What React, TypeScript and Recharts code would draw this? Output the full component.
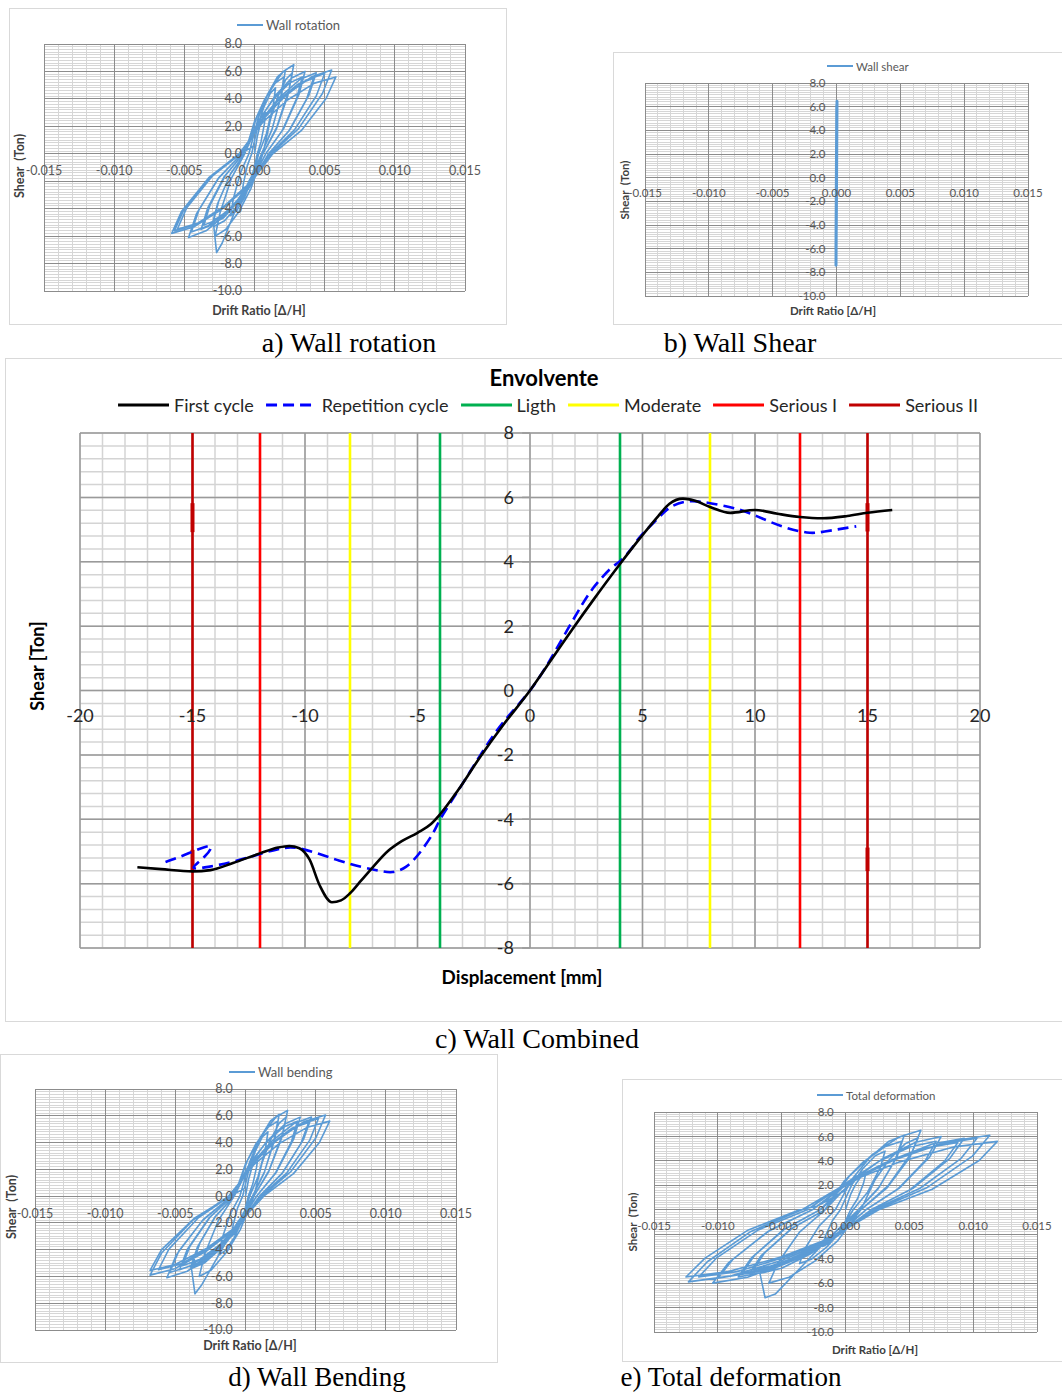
import React from "react";
import { LineChart, Line, XAxis, YAxis, CartesianGrid, ReferenceLine, ReferenceDot } from "recharts";

const FONT = "Lato, 'Open Sans', sans-serif";
const SERIF = "'Liberation Serif', 'DejaVu Serif', serif";
const BLUE = "#5B9BD5";

// drift ratio charts (a, b, d, e)
const DRIFT_TICKS = [-0.015, -0.01, -0.005, 0, 0.005, 0.01, 0.015];
const DRIFT_LABELS = ["-0.015", "-0.010", "-0.005", "0.000", "0.005", "0.010", "0.015"];
const SHEAR_TICKS = [8, 6, 4, 2, 0, -2, -4, -6, -8, -10];
const SHEAR_LABELS = ["8.0", "6.0", "4.0", "2.0", "0.0", "-2.0", "-4.0", "-6.0", "-8.0", "-10.0"];
const DRIFT_MINOR = Array.from({ length: 31 }, (_, i) => (i - 15) / 1000);
const SHEAR_MINOR = Array.from({ length: 91 }, (_, i) => (i - 50) / 5);

const WALL_ROTATION: [number, number][] = [
  [0, 0],
  [0.0002, 1.26], [0.0004, 2.1], [0.00062, 2.76], [0.0008, 3.0], [0.0007, 2.16], [0.00047, 0.9], [0.0002, 0],
  [-0.00008, -1.26], [-0.00035, -2.1], [-0.00066, -2.76], [-0.0009, -3.0], [-0.00079, -2.16], [-0.00052, -0.9], [-0.0002, 0],
  [0.00023, 2.02], [0.00065, 3.36], [0.00113, 4.42], [0.0015, 4.8], [0.00132, 3.46], [0.00084, 1.44], [0.0003, 0],
  [-0.0002, -1.89], [-0.0007, -3.15], [-0.00126, -4.14], [-0.0017, -4.5], [-0.0015, -3.24], [-0.00099, -1.35], [-0.0004, 0],
  [0.00025, 2.56], [0.0009, 4.27], [0.00163, 5.61], [0.0022, 6.1], [0.00194, 4.39], [0.00127, 1.83], [0.0005, 0],
  [-0.00038, -2.14], [-0.00125, -3.57], [-0.00223, -4.69], [-0.003, -5.1], [-0.00264, -3.67], [-0.00174, -1.53], [-0.0007, 0],
  [0, 2.35], [0.0007, 3.92], [0.00148, 5.15], [0.0021, 5.6], [0.00185, 4.03], [0.00122, 1.68], [0.0005, 0],
  [-0.00035, -2.02], [-0.0012, -3.36], [-0.00215, -4.42], [-0.0029, -4.8], [-0.00255, -3.46], [-0.0017, -1.44], [-0.0007, 0],
  [0.00018, 2.73], [0.00105, 4.55], [0.00203, 5.98], [0.0028, 6.5], [0.00246, 4.68], [0.00159, 1.95], [0.0006, 0],
  [-0.00028, -2.23], [-0.00115, -3.71], [-0.00213, -4.88], [-0.0029, -5.3], [-0.0027, -7.2], [-0.0023, -6.5], [-0.0014, -4.2], [-0.0004, -2.0], [0.0003, -0.7], [0.0006, 0],
  [0.00113, 2.48], [0.00165, 4.13], [0.00224, 5.43], [0.0027, 5.9], [0.00238, 4.25], [0.00155, 1.77], [0.0006, 0],
  [-0.00025, -2.52], [-0.0011, -4.2], [-0.00205, -5.52], [-0.0028, -6.0], [-0.00246, -4.32], [-0.00165, -1.8], [-0.0007, 0],
  [0.00038, 2.52], [0.00145, 4.2], [0.00265, 5.52], [0.0036, 6.0], [0.00317, 4.32], [0.00206, 1.8], [0.0008, 0],
  [-0.00035, -2.31], [-0.0015, -3.85], [-0.00279, -5.06], [-0.0038, -5.5], [-0.00334, -3.96], [-0.00215, -1.65], [-0.0008, 0],
  [0.00025, 2.35], [0.0013, 3.92], [0.00248, 5.15], [0.0034, 5.6], [0.003, 4.03], [0.00197, 1.68], [0.0008, 0],
  [-0.0003, -2.18], [-0.0014, -3.64], [-0.00263, -4.78], [-0.0036, -5.2], [-0.00317, -3.74], [-0.00206, -1.56], [-0.0008, 0],
  [0.0005, 2.48], [0.0018, 4.13], [0.00326, 5.43], [0.0044, 5.9], [0.00387, 4.25], [0.00253, 1.77], [0.001, 0],
  [-0.00043, -2.56], [-0.00185, -4.27], [-0.00345, -5.61], [-0.0047, -6.1], [-0.00414, -4.39], [-0.00261, -1.83], [-0.0009, 0],
  [0.00038, 2.31], [0.00165, 3.85], [0.00308, 5.06], [0.0042, 5.5], [0.0037, 3.96], [0.00244, 1.65], [0.001, 0],
  [-0.00038, -2.39], [-0.00175, -3.99], [-0.00329, -5.24], [-0.0045, -5.7], [-0.00396, -4.1], [-0.00252, -1.71], [-0.0009, 0],
  [0.00058, 2.46], [0.00205, 4.1], [0.0037, 5.38], [0.005, 5.85], [0.0044, 4.21], [0.00286, 1.76], [0.0011, 0],
  [-0.00055, -2.31], [-0.0022, -3.85], [-0.00405, -5.06], [-0.0055, -5.5], [-0.00484, -3.96], [-0.00303, -1.65], [-0.001, 0],
  [0.00063, 2.56], [0.00225, 4.27], [0.00407, 5.61], [0.0055, 6.1], [0.00484, 4.39], [0.00314, 1.83], [0.0012, 0],
  [-0.00058, -2.44], [-0.00235, -4.06], [-0.00434, -5.34], [-0.0059, -5.8], [-0.00519, -4.18], [-0.00326, -1.74], [-0.0011, 0],
  [0.00063, 2.35], [0.00235, 3.92], [0.00428, 5.15], [0.0058, 5.6], [0.0051, 4.03], [0.00333, 1.68], [0.0013, 0],
  [-0.00045, -2.35], [-0.0022, -3.92], [-0.00416, -5.15], [-0.0057, -5.6], [-0.00502, -4.03], [-0.00312, -1.68], [-0.001, 0],
  [0, 0.6],
];

const WALL_SHEAR: [number, number][] = [
  [0, 0], [0.00002, 3.0], [-0.00001, -2.9], [0.00003, 4.8], [-0.00002, -4.4],
  [0.00003, 6.1], [-0.00003, -5.2], [0.00004, 6.45], [-0.00004, -7.4], [0.00003, 6.0],
  [-0.00003, -5.6], [0.00003, 5.9], [-0.00004, -6.1], [0.00002, 6.1], [-0.00003, -5.9],
  [0.00002, 5.5], [0, 0],
];

const WALL_BENDING: [number, number][] = [
  [0, 0],
  [0.00022, 1.26], [0.00045, 2.1], [0.0007, 2.76], [0.0009, 3.0], [0.00079, 2.16], [0.00052, 0.9], [0.0002, 0],
  [-0.0001, -1.26], [-0.0004, -2.1], [-0.00074, -2.76], [-0.001, -3.0], [-0.00088, -2.16], [-0.00057, -0.9], [-0.0002, 0],
  [0.00025, 2.02], [0.0007, 3.36], [0.0012, 4.42], [0.0016, 4.8], [0.00141, 3.46], [0.00089, 1.44], [0.0003, 0],
  [-0.00025, -1.85], [-0.0008, -3.08], [-0.00142, -4.05], [-0.0019, -4.4], [-0.00167, -3.17], [-0.00108, -1.32], [-0.0004, 0],
  [0.0003, 2.56], [0.001, 4.27], [0.00178, 5.61], [0.0024, 6.1], [0.00211, 4.39], [0.00136, 1.83], [0.0005, 0],
  [-0.0006, -2.23], [-0.0017, -3.71], [-0.00293, -4.88], [-0.0039, -5.3], [-0.00343, -3.82], [-0.0022, -1.59], [-0.0008, 0],
  [-0.00002, 2.35], [0.00075, 3.92], [0.00162, 5.15], [0.0023, 5.6], [0.00202, 4.03], [0.00131, 1.68], [0.0005, 0],
  [-0.00055, -2.06], [-0.0016, -3.43], [-0.00278, -4.51], [-0.0037, -4.9], [-0.00326, -3.53], [-0.00211, -1.47], [-0.0008, 0],
  [0.00015, 2.69], [0.0011, 4.48], [0.00216, 5.89], [0.003, 6.4], [0.00264, 4.61], [0.00168, 1.92], [0.0006, 0],
  [-0.0005, -2.27], [-0.0016, -3.78], [-0.0029, -4.97], [-0.00385, -5.4], [-0.0036, -7.3], [-0.0031, -6.6], [-0.0018, -4.2], [-0.0006, -2.0], [0.0003, -0.7], [0.0006, 0],
  [0.00118, 2.48], [0.00175, 4.13], [0.00239, 5.43], [0.0029, 5.9], [0.00255, 4.25], [0.00163, 1.77], [0.0006, 0],
  [-0.00038, -2.52], [-0.00135, -4.2], [-0.00244, -5.52], [-0.0033, -6.0], [-0.0029, -4.32], [-0.00193, -1.8], [-0.0008, 0],
  [0.00038, 2.48], [0.00155, 4.13], [0.00287, 5.43], [0.0039, 5.9], [0.00343, 4.25], [0.00219, 1.77], [0.0008, 0],
  [-0.00058, -2.31], [-0.00195, -3.85], [-0.00349, -5.06], [-0.0047, -5.5], [-0.00414, -3.96], [-0.00261, -1.65], [-0.0009, 0],
  [0.00025, 2.35], [0.0014, 3.92], [0.00269, 5.15], [0.0037, 5.6], [0.00326, 4.03], [0.00211, 1.68], [0.0008, 0],
  [-0.00053, -2.18], [-0.00185, -3.64], [-0.00333, -4.78], [-0.0045, -5.2], [-0.00396, -3.74], [-0.00252, -1.56], [-0.0009, 0],
  [0.0005, 2.48], [0.0019, 4.13], [0.00347, 5.43], [0.0047, 5.9], [0.00414, 4.25], [0.00267, 1.77], [0.001, 0],
  [-0.00065, -2.56], [-0.0023, -4.27], [-0.00415, -5.61], [-0.0056, -6.1], [-0.00493, -4.39], [-0.00307, -1.83], [-0.001, 0],
  [0.00038, 2.31], [0.00175, 3.85], [0.00329, 5.06], [0.0045, 5.5], [0.00396, 3.96], [0.00258, 1.65], [0.001, 0],
  [-0.0006, -2.39], [-0.0022, -3.99], [-0.00399, -5.24], [-0.0054, -5.7], [-0.00475, -4.1], [-0.00298, -1.71], [-0.001, 0],
  [0.00055, 2.44], [0.0021, 4.06], [0.00384, 5.34], [0.0052, 5.8], [0.00458, 4.18], [0.00295, 1.74], [0.0011, 0],
  [-0.00073, -2.31], [-0.00255, -3.85], [-0.00459, -5.06], [-0.0062, -5.5], [-0.00546, -3.96], [-0.00339, -1.65], [-0.0011, 0],
  [0.0006, 2.54], [0.0023, 4.24], [0.0042, 5.57], [0.0057, 6.05], [0.00502, 4.36], [0.00322, 1.82], [0.0012, 0],
  [-0.0008, -2.48], [-0.0028, -4.13], [-0.00504, -5.43], [-0.0068, -5.9], [-0.00598, -4.25], [-0.00372, -1.77], [-0.0012, 0],
  [0.0006, 2.35], [0.0024, 3.92], [0.00442, 5.15], [0.006, 5.6], [0.00528, 4.03], [0.00342, 1.68], [0.0013, 0],
  [-0.00073, -2.33], [-0.00275, -3.89], [-0.00502, -5.11], [-0.0068, -5.55], [-0.00598, -4.0], [-0.00367, -1.67], [-0.0011, 0],
  [0, 0.6],
];

const TOTAL_DEFORMATION: [number, number][] = [
  [0, 0],
  [0.0004, 1.26], [0.0008, 2.1], [0.00125, 2.76], [0.0016, 3.0], [0.00141, 2.16], [0.00094, 0.9], [0.0004, 0],
  [-0.00015, -1.26], [-0.0007, -2.1], [-0.00132, -2.76], [-0.0018, -3.0], [-0.00158, -2.16], [-0.00103, -0.9], [-0.0004, 0],
  [0.00048, 2.02], [0.00135, 3.36], [0.00233, 4.42], [0.0031, 4.8], [0.00273, 3.46], [0.00173, 1.44], [0.0006, 0],
  [-0.00045, -1.85], [-0.0015, -3.08], [-0.00268, -4.05], [-0.0036, -4.4], [-0.00317, -3.17], [-0.00206, -1.32], [-0.0008, 0],
  [0.00055, 2.56], [0.0019, 4.27], [0.00341, 5.61], [0.0046, 6.1], [0.00405, 4.39], [0.00262, 1.83], [0.001, 0],
  [-0.00113, -2.18], [-0.00325, -3.64], [-0.00563, -4.78], [-0.0075, -5.2], [-0.0066, -3.74], [-0.00426, -1.56], [-0.0016, 0],
  [-0.0001, 2.35], [0.0014, 3.92], [0.00308, 5.15], [0.0044, 5.6], [0.00387, 4.03], [0.00253, 1.68], [0.001, 0],
  [-0.00105, -2.06], [-0.0031, -3.43], [-0.0054, -4.51], [-0.0072, -4.9], [-0.00634, -3.53], [-0.00412, -1.47], [-0.0016, 0],
  [0.00028, 2.73], [0.00215, 4.55], [0.00425, 5.98], [0.0059, 6.5], [0.00519, 4.68], [0.00332, 1.95], [0.0012, 0],
  [-0.00078, -2.18], [-0.0028, -3.64], [-0.005, -4.78], [-0.0067, -5.2], [-0.0063, -7.2], [-0.0055, -6.9], [-0.0033, -4.5], [-0.0012, -2.2], [0.0004, -0.7], [0.0012, 0],
  [0.00233, 2.48], [0.00345, 4.13], [0.00471, 5.43], [0.0057, 5.9], [0.00502, 4.25], [0.00323, 1.77], [0.0012, 0],
  [-0.0006, -2.52], [-0.0024, -4.2], [-0.00442, -5.52], [-0.006, -6.0], [-0.00528, -4.32], [-0.00358, -1.8], [-0.0016, 0],
  [0.00068, 2.52], [0.00295, 4.2], [0.0055, 5.52], [0.0075, 6.0], [0.0066, 4.32], [0.00425, 1.8], [0.0016, 0],
  [-0.0009, -2.31], [-0.0034, -3.85], [-0.0062, -5.06], [-0.0084, -5.5], [-0.00739, -3.96], [-0.00488, -1.65], [-0.002, 0],
  [0.00028, 2.35], [0.00255, 3.92], [0.0051, 5.15], [0.0071, 5.6], [0.00625, 4.03], [0.00408, 1.68], [0.0016, 0],
  [-0.00083, -2.18], [-0.00325, -3.64], [-0.00597, -4.78], [-0.0081, -5.2], [-0.00713, -3.74], [-0.00475, -1.56], [-0.002, 0],
  [0.00083, 2.46], [0.00365, 4.1], [0.00681, 5.38], [0.0093, 5.85], [0.00818, 4.21], [0.00529, 1.76], [0.002, 0],
  [-0.0011, -2.52], [-0.0042, -4.2], [-0.00767, -5.52], [-0.0104, -6.0], [-0.00915, -4.32], [-0.00611, -1.8], [-0.0026, 0],
  [0.00025, 2.31], [0.0031, 3.85], [0.00629, 5.06], [0.0088, 5.5], [0.00774, 3.96], [0.00506, 1.65], [0.002, 0],
  [-0.001, -2.35], [-0.004, -3.92], [-0.00736, -5.15], [-0.01, -5.6], [-0.0088, -4.03], [-0.00593, -1.68], [-0.0026, 0],
  [0.00063, 2.46], [0.00385, 4.1], [0.00746, 5.38], [0.0103, 5.85], [0.00906, 4.21], [0.00584, 1.76], [0.0022, 0],
  [-0.00123, -2.31], [-0.00465, -3.85], [-0.00849, -5.06], [-0.0115, -5.5], [-0.01012, -3.96], [-0.00683, -1.65], [-0.003, 0],
  [0.00058, 2.56], [0.00415, 4.27], [0.00815, 5.61], [0.0113, 6.1], [0.00994, 4.39], [0.00641, 1.83], [0.0024, 0],
  [-0.00128, -2.48], [-0.00495, -4.13], [-0.00907, -5.43], [-0.0123, -5.9], [-0.01082, -4.25], [-0.00741, -1.77], [-0.0034, 0],
  [0.00043, 2.35], [0.00425, 3.92], [0.00853, 5.15], [0.0119, 5.6], [0.01047, 4.03], [0.00679, 1.68], [0.0026, 0],
  [-0.00118, -2.31], [-0.005, -3.85], [-0.00918, -5.06], [-0.0125, -5.5], [-0.011, -3.96], [-0.00761, -1.65], [-0.0036, 0],
  [-0.0022, 0.3], [0, 1.6],
];

// envelope chart (c): [displacement mm, shear Ton]
const FIRST_CYCLE: [number, number][] = [
  [-17.45, -5.49], [-16.4, -5.55], [-15.0, -5.62], [-14.2, -5.58], [-13.2, -5.36], [-12.0, -5.06],
  [-11.2, -4.88], [-10.7, -4.83], [-10.25, -4.9], [-9.8, -5.25], [-9.35, -6.05], [-8.8, -6.58],
  [-8.4, -6.52], [-8.0, -6.3], [-7.5, -5.9], [-7.0, -5.5], [-6.3, -4.98], [-5.7, -4.68],
  [-5.0, -4.42], [-4.4, -4.15], [-4.0, -3.85], [-3.2, -3.1], [-2.2, -2.05], [-1.2, -1.08],
  [0, 0], [1.1, 1.11], [1.9, 1.92], [2.8, 2.8], [4.0, 3.93], [4.9, 4.74], [5.7, 5.42],
  [6.2, 5.8], [6.8, 5.96], [7.3, 5.9], [8.0, 5.7], [8.9, 5.52], [10.0, 5.61], [11.0, 5.49],
  [12.0, 5.39], [13.0, 5.35], [14.1, 5.42], [15.0, 5.52], [16.1, 5.61],
];
const REPETITION_CYCLE: [number, number][] = [
  [-16.2, -5.33], [-15.5, -5.15], [-14.8, -4.95], [-14.2, -4.84], [-14.45, -5.15], [-14.95, -5.5],
  [-14.3, -5.48], [-13.2, -5.32], [-12.0, -5.08], [-11.0, -4.9], [-10.3, -4.9], [-9.5, -5.05],
  [-8.5, -5.28], [-7.5, -5.48], [-6.7, -5.6], [-6.1, -5.64], [-5.5, -5.47], [-4.9, -5.04],
  [-4.3, -4.42], [-3.95, -3.95], [-3.2, -3.12], [-2.2, -2.0], [-1.2, -1.0], [0, 0],
  [1.1, 1.2], [2.3, 2.65], [3.0, 3.35], [3.6, 3.8], [4.0, 4.02], [4.5, 4.4], [4.9, 4.78],
  [5.7, 5.36], [6.3, 5.72], [7.1, 5.88], [8.0, 5.82], [9.1, 5.66], [10.1, 5.41], [11.2, 5.1],
  [12.3, 4.91], [13.1, 4.94], [14.5, 5.1],
];
const LIGTH_X = [-4, 4];
const MODERATE_X = [-8, 8];
const SERIOUS_I_X = [-12, 12];
const SERIOUS_II_X = [-15, 15];
// short heavier pieces visible on the limit lines: [x, y from, y to]
const LIMIT_MARKS: [number, number, number][] = [
  [-15, 4.92, 5.82], [-15, -4.95, -5.6], [15, 4.94, 5.82], [15, -4.88, -5.61],
];
const ENV_LEGEND = ["First cycle", "Repetition cycle", "Ligth", "Moderate", "Serious I", "Serious II"];
const ENV_COLORS = ["#000000", "#0000FF", "#00B050", "#FFFF00", "#FF0000", "#C00000"];
const DISP_TICKS = [-20, -15, -10, -5, 0, 5, 10, 15, 20];
const ENV_SHEAR_TICKS = [8, 6, 4, 2, 0, -2, -4, -6, -8];
const DISP_MINOR = Array.from({ length: 41 }, (_, i) => i - 20);
const ENV_MINOR = Array.from({ length: 41 }, (_, i) => ((i - 20) * 2) / 5);

type Box = { x: number; y: number; w: number; h: number };

const marginOf = (f: Box, p: Box) => ({
  left: p.x - f.x,
  top: p.y - f.y,
  right: f.x + f.w - p.x - p.w,
  bottom: f.y + f.h - p.y - p.h,
});

function Txt({ x, y, children, size, bold, rotate, family = FONT, color = "#000" }: any) {
  return (
    <div
      style={{
        position: "absolute",
        left: x,
        top: y,
        transform: `translate(-50%, -50%)${rotate ? " rotate(-90deg)" : ""}`,
        whiteSpace: "pre",
        fontFamily: family,
        fontSize: size,
        fontWeight: bold ? 700 : 400,
        color,
        lineHeight: 1.15,
      }}
    >
      {children}
    </div>
  );
}

function MiniLegend({ x, y, name, size }: { x: number; y: number; name: string; size: number }) {
  return (
    <div style={{ position: "absolute", left: x, top: y - 9, height: 18, display: "flex", alignItems: "center", fontFamily: FONT, fontSize: size, color: "#595959", whiteSpace: "nowrap" }}>
      <span style={{ display: "inline-block", width: 26, height: 2, background: BLUE, marginRight: 3 }} />
      {name}
    </div>
  );
}

function DriftChart({ frame, plot, points, name, tick, legendSize, titleSize, xGap, yGap, lineWidth, legendX, legendY, xTitle, yTitle }: any) {
  const data = (points as [number, number][]).map(([x, y]) => ({ x, y }));
  return (
    <>
      <div style={{ position: "absolute", left: frame.x, top: frame.y, width: frame.w, height: frame.h, border: "1px solid #d9d9d9", boxSizing: "border-box" }} />
      <div className="crisp-grid" style={{ position: "absolute", left: frame.x, top: frame.y }}>
        <LineChart width={frame.w} height={frame.h} data={data} margin={marginOf(frame, plot)}>
          <XAxis type="number" dataKey="x" domain={[-0.015, 0.015]} ticks={DRIFT_TICKS} interval={0} hide allowDataOverflow />
          <YAxis type="number" domain={[-10, 8]} ticks={SHEAR_TICKS} interval={0} hide allowDataOverflow />
          <CartesianGrid verticalValues={DRIFT_MINOR} horizontalValues={SHEAR_MINOR} stroke="#d6d6d6" strokeWidth={1} />
          <CartesianGrid verticalValues={DRIFT_TICKS} horizontalValues={SHEAR_TICKS} stroke="#8c8c8c" strokeWidth={1} />
          <Line dataKey="y" type="linear" stroke={BLUE} strokeWidth={lineWidth} strokeLinejoin="round" dot={false} isAnimationActive={false} />
          {DRIFT_TICKS.map((v, i) => (
            <ReferenceDot key={"dx" + i} x={v} y={0} r={0} fill="none" stroke="none" ifOverflow="visible"
              label={{ value: DRIFT_LABELS[i], position: "bottom", offset: xGap, fill: "#595959", fontSize: tick, fontFamily: FONT }} />
          ))}
          {SHEAR_TICKS.map((v, i) => (
            <ReferenceDot key={"dy" + i} x={0} y={v} r={0} fill="none" stroke="none" ifOverflow="visible"
              label={{ value: SHEAR_LABELS[i], position: "left", offset: yGap, fill: "#595959", fontSize: tick, fontFamily: FONT }} />
          ))}
        </LineChart>
      </div>
      <MiniLegend x={legendX} y={legendY} name={name} size={legendSize} />
      <Txt x={xTitle[0]} y={xTitle[1]} size={titleSize} bold color="#404040">Drift Ratio [Δ/H]</Txt>
      <Txt x={yTitle[0]} y={yTitle[1]} size={titleSize} bold rotate color="#404040">{"Shear  (Ton)"}</Txt>
    </>
  );
}

function EnvelopeChart() {
  const frame = { x: 5, y: 358, w: 1062, h: 664 };
  const plot = { x: 80, y: 433, w: 900, h: 515 };
  const first = FIRST_CYCLE.map(([x, y]) => ({ x, y }));
  const rep = REPETITION_CYCLE.map(([x, y]) => ({ x, y }));
  const limitSets: [number[], string][] = [
    [LIGTH_X, ENV_COLORS[2]],
    [MODERATE_X, ENV_COLORS[3]],
    [SERIOUS_I_X, ENV_COLORS[4]],
    [SERIOUS_II_X, ENV_COLORS[5]],
  ];
  return (
    <>
      <div style={{ position: "absolute", left: frame.x, top: frame.y, width: frame.w, height: frame.h, border: "1px solid #d9d9d9", boxSizing: "border-box" }} />
      <div style={{ position: "absolute", left: frame.x, top: frame.y }}>
        <LineChart width={frame.w} height={frame.h} margin={marginOf(frame, plot)}>
          <XAxis type="number" dataKey="x" domain={[-20, 20]} ticks={DISP_TICKS} interval={0} hide allowDataOverflow />
          <YAxis type="number" domain={[-8, 8]} ticks={ENV_SHEAR_TICKS} interval={0} hide allowDataOverflow />
          <CartesianGrid verticalValues={DISP_MINOR} horizontalValues={ENV_MINOR} stroke="#d4d4d4" strokeWidth={1.5} />
          <CartesianGrid verticalValues={DISP_TICKS} horizontalValues={ENV_SHEAR_TICKS} stroke="#9a9a9a" strokeWidth={1.5} />
          {ENV_SHEAR_TICKS.map((v) => (
            <ReferenceLine key={"tk" + v} segment={[{ x: -0.35, y: v }, { x: 0, y: v }]} stroke="#9a9a9a" strokeWidth={1.5} ifOverflow="visible" />
          ))}
          {limitSets.map(([xs, color]) =>
            xs.map((v) => <ReferenceLine key={"lim" + v} x={v} stroke={color} strokeWidth={2.6} />)
          )}
          {LIMIT_MARKS.map(([x, a, b], i) => (
            <ReferenceLine key={"mk" + i} segment={[{ x, y: a }, { x, y: b }]} stroke="#C00000" strokeWidth={4} />
          ))}
          <Line data={rep} dataKey="y" type="natural" stroke="#0000FF" strokeWidth={2.6} strokeDasharray="11 6" dot={false} isAnimationActive={false} />
          <Line data={first} dataKey="y" type="monotone" stroke="#000000" strokeWidth={2.6} dot={false} isAnimationActive={false} />
          {DISP_TICKS.map((v) => (
            <ReferenceDot key={"cx" + v} x={v} y={0} r={0} fill="none" stroke="none" ifOverflow="visible"
              label={{ value: String(v), position: "bottom", offset: 19, fill: "#262626", fontSize: 18, fontFamily: FONT }} />
          ))}
          {ENV_SHEAR_TICKS.map((v) => (
            <ReferenceDot key={"cy" + v} x={0} y={v} r={0} fill="none" stroke="none" ifOverflow="visible"
              label={{ value: String(v), position: "left", offset: 16, fill: "#262626", fontSize: 18, fontFamily: FONT }} />
          ))}
        </LineChart>
      </div>
      <Txt x={544} y={378} size={22} bold>Envolvente</Txt>
      <div style={{ position: "absolute", left: 548, top: 394, height: 22, transform: "translateX(-50%)", display: "flex", alignItems: "center", fontFamily: FONT, fontSize: 18, color: "#262626", whiteSpace: "nowrap" }}>
        {ENV_LEGEND.map((n, i) => (
          <span key={n} style={{ display: "inline-flex", alignItems: "center", marginRight: i < ENV_LEGEND.length - 1 ? 12 : 0 }}>
            <svg width={51} height={4} style={{ marginRight: 5 }}>
              <line x1={0} y1={2} x2={51} y2={2} stroke={ENV_COLORS[i]} strokeWidth={3} strokeDasharray={i === 1 ? "11 6" : undefined} />
            </svg>
            {n}
          </span>
        ))}
      </div>
      <Txt x={37} y={666} size={18} bold rotate>Shear [Ton]</Txt>
      <Txt x={522} y={977} size={18.8} bold>Displacement [mm]</Txt>
    </>
  );
}

export default function App() {
  return (
    <div style={{ position: "absolute", left: 0, top: 0, width: 1062, height: 1394, overflow: "hidden", background: "#fff" }}>
      <style>{`.crisp-grid .recharts-cartesian-grid line { shape-rendering: crispEdges; }`}</style>
      <DriftChart
        frame={{ x: 9, y: 8, w: 498, h: 317 }} plot={{ x: 44, y: 44, w: 421, h: 247 }}
        points={WALL_ROTATION} name="Wall rotation" tick={12.5} legendSize={13} titleSize={12.5}
        xGap={12.8} yGap={12.5} lineWidth={1.6}
        legendX={237} legendY={25} xTitle={[259, 311]} yTitle={[20, 166]}
      />
      <DriftChart
        frame={{ x: 613, y: 52, w: 460, h: 273 }} plot={{ x: 645, y: 83, w: 383, h: 213 }}
        points={WALL_SHEAR} name="Wall shear" tick={11.5} legendSize={11.5} titleSize={11.5}
        xGap={11} yGap={11} lineWidth={3}
        legendX={827} legendY={66} xTitle={[833, 311]} yTitle={[625, 190]}
      />
      <EnvelopeChart />
      <DriftChart
        frame={{ x: 0, y: 1054, w: 498, h: 309 }} plot={{ x: 35, y: 1089, w: 421, h: 241 }}
        points={WALL_BENDING} name="Wall bending" tick={12.5} legendSize={13} titleSize={12.5}
        xGap={13.3} yGap={12.7} lineWidth={1.6}
        legendX={229} legendY={1072} xTitle={[250, 1346]} yTitle={[12, 1207]}
      />
      <DriftChart
        frame={{ x: 622, y: 1079, w: 445, h: 283 }} plot={{ x: 654, y: 1112, w: 383, h: 220 }}
        points={TOTAL_DEFORMATION} name="Total deformation" tick={11.5} legendSize={11.5} titleSize={11.5}
        xGap={12} yGap={11.7} lineWidth={1.6}
        legendX={817} legendY={1095} xTitle={[875, 1350]} yTitle={[633, 1222]}
      />
      <Txt x={349} y={343} size={28} family={SERIF}>a) Wall rotation</Txt>
      <Txt x={740} y={343} size={28} family={SERIF}>b) Wall Shear</Txt>
      <Txt x={537} y={1039} size={28} family={SERIF}>c) Wall Combined</Txt>
      <Txt x={317} y={1378} size={27} family={SERIF}>d) Wall Bending</Txt>
      <Txt x={731} y={1378} size={27} family={SERIF}>e) Total deformation</Txt>
    </div>
  );
}
